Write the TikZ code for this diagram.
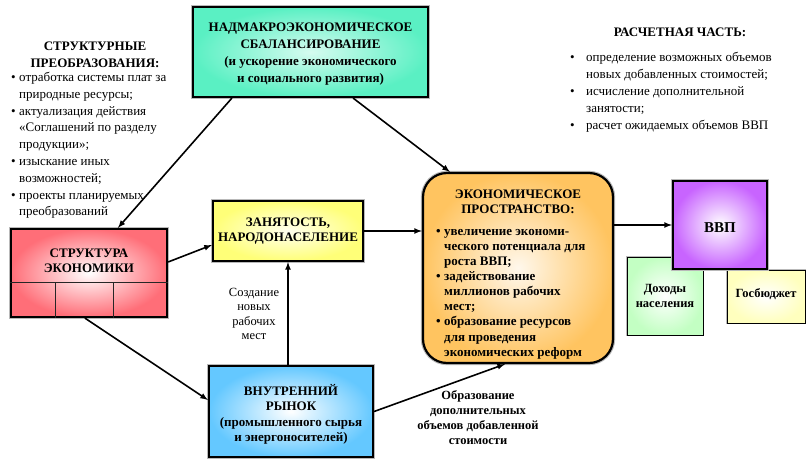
\documentclass[tikz,border=0pt]{standalone}
\usepackage{fontspec}
\setmainfont{Liberation Serif}
\usetikzlibrary{positioning}

\definecolor{aqua}{RGB}{90,240,195}
\definecolor{rose}{RGB}{255,110,120}
\definecolor{sun}{RGB}{255,255,120}
\definecolor{amber}{RGB}{255,196,96}
\definecolor{violet}{RGB}{200,100,255}
\definecolor{mint}{RGB}{195,255,195}
\definecolor{cream}{RGB}{255,255,190}
\definecolor{sky}{RGB}{100,200,255}

\newcommand{\bul}{\makebox[8pt][l]{\textbullet}}
\newcommand{\ind}{\hspace*{8pt}}
\newcommand{\bulwide}{\makebox[16pt][l]{\textbullet}}
\newcommand{\indwide}{\hspace*{16pt}}

\begin{document}
\begin{tikzpicture}[x=1pt, y=-1pt,
  boxnode/.style={rectangle, draw=black, line width=2.2pt, preaction={draw=gray!55, line width=4.4pt}, align=center, inner sep=0pt, font=\fontsize{13}{16}\selectfont\bfseries},
  thinbox/.style={rectangle, draw=black, line width=1pt, preaction={draw=gray!55, line width=2.6pt}, align=center, inner sep=0pt, font=\fontsize{12.5}{15}\selectfont\bfseries},
  boxtext/.style={align=center, inner sep=0pt, font=\fontsize{13}{16}\selectfont\bfseries},
  plaintext/.style={align=left, inner sep=0pt, font=\fontsize{13}{16.8}\selectfont},
  conn/.style={line width=1.6pt, -latex}]

\useasboundingbox (0,0) rectangle (807,461);

% boxes
\node[boxnode, minimum width=235pt, minimum height=90pt, inner color=aqua!25, outer color=aqua] (nadm) at (310.5,52) {};
\node[boxtext, font=\fontsize{13}{17}\selectfont\bfseries] (nadmtext) at (310.5,54) {НАДМАКРОЭКОНОМИЧЕСКОЕ\\СБАЛАНСИРОВАНИЕ\\(и ускорение экономического\\и социального развития)};

\node[boxnode, minimum width=156pt, minimum height=88pt, inner color=white, outer color=rose] (struct) at (89,273) {};
\node[boxtext, font=\fontsize{13}{15}\selectfont\bfseries] (structtext) at (89,261) {СТРУКТУРА\\ЭКОНОМИКИ};
\draw[gray!30!black, line width=0.6pt] (struct.west |- 0,282) -- (struct.east |- 0,282);
\draw[gray!30!black, line width=0.6pt] (55,282) -- (struct.south -| 55,0);
\draw[gray!30!black, line width=0.6pt] (113,282) -- (struct.south -| 113,0);

\node[boxnode, minimum width=150pt, minimum height=60pt, inner color=sun!12, outer color=sun] (zan) at (288,231) {};
\node[boxtext, font=\fontsize{13}{15.5}\selectfont\bfseries] (zantext) at (288,231) {ЗАНЯТОСТЬ,\\НАРОДОНАСЕЛЕНИЕ};

\node[boxnode, rounded corners=24pt, minimum width=190pt, minimum height=190pt, inner color=amber!12, outer color=amber] (econ) at (518,268) {};
\node[boxtext, font=\fontsize{13}{15}\selectfont\bfseries] (econtitle) at (518,202) {ЭКОНОМИЧЕСКОЕ\\ПРОСТРАНСТВО:};
\begin{scope}
\clip[rounded corners=21pt] ([shift={(3pt,3pt)}]econ.south west) rectangle ([shift={(-3pt,-3pt)}]econ.north east);
\node[plaintext, anchor=north west, font=\fontsize{13}{15.1}\selectfont\bfseries] (econlist) at (436,229) {\bul увеличение экономи-\\ \ind ческого потенциала для\\ \ind роста ВВП;\\ \bul задействование\\ \ind миллионов рабочих\\ \ind мест;\\ \bul образование ресурсов\\ \ind для проведения\\ \ind экономических реформ};
\end{scope}

\node[thinbox, minimum width=76pt, minimum height=78pt, inner color=white, outer color=mint] (income) at (665,296) {Доходы\\населения};
\node[thinbox, minimum width=78pt, minimum height=53pt, inner color=white, outer color=cream] (budget) at (766,296.5) {};
\node[boxtext, font=\fontsize{12.5}{15}\selectfont\bfseries] (budgettext) at (766,294) {Госбюджет};
\node[boxnode, minimum width=94pt, minimum height=88pt, inner color=white, outer color=violet] (gdp) at (720,225) {};
\node[boxtext, font=\fontsize{15}{18}\selectfont\bfseries] (gdptext) at (720,228) {ВВП};

\node[boxnode, minimum width=164pt, minimum height=91pt, inner color=white, outer color=sky] (vr) at (291,411.5) {};
\node[boxtext, font=\fontsize{13}{15.5}\selectfont\bfseries] (vrtext) at (291,414.5) {ВНУТРЕННИЙ\\РЫНОК\\(промышленного сырья\\и энергоносителей)};

% side texts
\node[boxtext, font=\fontsize{13}{17}\selectfont\bfseries] (titleleft) at (95,55) {СТРУКТУРНЫЕ\\ПРЕОБРАЗОВАНИЯ:};
\node[plaintext, anchor=north west] (listleft) at (11,72) {\bul отработка системы плат за\\ \ind природные ресурсы;\\ \bul актуализация действия\\ \ind «Соглашений по разделу\\ \ind продукции»;\\ \bul изыскание иных\\ \ind возможностей;\\ \bul проекты планируемых\\ \ind преобразований};

\node[boxtext, font=\fontsize{13}{16}\selectfont\bfseries] (titleright) at (680,32) {РАСЧЕТНАЯ ЧАСТЬ:};
\node[plaintext, anchor=north west, font=\fontsize{13}{17}\selectfont] (listright) at (570,52) {\bulwide определение возможных объемов\\ \indwide новых добавленных стоимостей;\\ \bulwide исчисление дополнительной\\ \indwide занятости;\\ \bulwide расчет ожидаемых объемов ВВП};

\node[align=center, font=\fontsize{12.5}{14.5}\selectfont] (lblnew) at (254,314) {Создание\\новых\\рабочих\\мест};
\node[align=center, font=\fontsize{12.5}{15}\selectfont\bfseries] (lbladd) at (478,418) {Образование\\дополнительных\\объемов добавленной\\стоимости};

% connectors
\draw[conn] ([xshift=40pt]nadm.south west) -- ([xshift=108pt]struct.north west);
\draw[conn] ([xshift=-76pt]nadm.south east) -- ([xshift=28pt]econ.north west);
\draw[conn] ([yshift=11pt]struct.east) -- ([yshift=-14pt]zan.west);
\draw[conn] (zan.east) -- (zan.east -| econ.west);
\draw[conn] (gdp.west -| econ.east) -- (gdp.west);
\draw[conn] (vr.north -| zan.south) -- (zan.south);
\draw[conn] ([xshift=75pt]struct.south west) -- ([yshift=11.5pt]vr.west);
\draw[conn] (vr.east) -- ([xshift=-13pt]econ.south);

\end{tikzpicture}
\end{document}
